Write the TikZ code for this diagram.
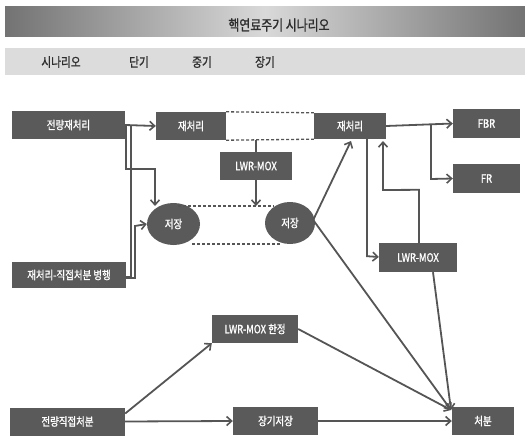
\documentclass[tikz,border=0pt]{standalone}
\usepackage{fontspec}
\newfontfamily\kr[FakeStretch=0.82,FakeBold=1.2]{Noto Sans CJK KR}
\usetikzlibrary{arrows.meta,shapes.geometric}
\definecolor{boxgray}{HTML}{5A5A5A}
\definecolor{linegray}{HTML}{555555}
\definecolor{bandgray}{HTML}{DCDCDC}
\definecolor{txtdark}{HTML}{2E2E2E}
\tikzset{
  box/.style={fill=boxgray, draw=none, text=white, inner sep=0pt,
    font=\kr\fontsize{11.5}{12}\selectfont},
  oval/.style={ellipse, fill=boxgray, draw=none, text=white, inner sep=0pt,
    font=\kr\fontsize{11.5}{12}\selectfont},
  conn/.style={draw=linegray, line width=1.8pt, -{Straight Barb[length=5pt,width=9pt,line width=1.6pt]}},
  plain/.style={draw=linegray, line width=1.8pt},
  dashline/.style={draw=linegray, line width=1.3pt, dash pattern=on 3pt off 2pt},
  bandtxt/.style={text=txtdark, font=\kr\fontsize{13}{14}\selectfont, inner sep=0pt}
}
\begin{document}
\begin{tikzpicture}[x=1pt,y=-1pt]
\useasboundingbox (0,0) rectangle (525,436);
% banners
\shade[left color=gray!90!black, right color=gray!90!black, middle color=gray!30] (5,7) rectangle (525,37);
\node[text=txtdark, font=\kr\fontsize{14.5}{15}\selectfont, inner sep=0pt] (title) at (279,25) {핵연료주기 시나리오};
\fill[bandgray] (5,48) rectangle (525,75);
\node[bandtxt] (h1) at (61,62) {시나리오};
\node[bandtxt] (h2) at (139,62) {단기};
\node[bandtxt] (h3) at (202,62) {중기};
\node[bandtxt] (h4) at (265,62) {장기};
% nodes
\node[box, minimum width=113pt, minimum height=28pt] (all) at (68.5,125) {전량재처리};
\node[box, minimum width=70pt, minimum height=28pt] (r1) at (191,126) {재처리};
\node[box, minimum width=72pt, minimum height=26pt] (r2) at (350,126) {재처리};
\node[box, minimum width=67pt, minimum height=29pt] (fbr) at (486.5,123.5) {FBR};
\node[box, minimum width=67pt, minimum height=29pt] (fr) at (486.5,178.5) {FR};
\node[box, minimum width=72pt, minimum height=28pt] (m1) at (256,166) {LWR-MOX};
\node[oval, minimum width=53pt, minimum height=42pt] (sL) at (173.5,224) {저장};
\node[oval, minimum width=50pt, minimum height=42pt] (sR) at (290,223) {저장};
\node[box, minimum width=78pt, minimum height=29pt] (m2) at (418,257.5) {LWR-MOX};
\node[box, minimum width=114pt, minimum height=26pt] (par) at (69,275) {재처리-직접처분 병행};
\node[box, minimum width=86pt, minimum height=28pt] (m3) at (255,329) {LWR-MOX 한정};
\node[box, minimum width=115pt, minimum height=28pt] (dd) at (67.5,421.5) {전량직접처분};
\node[box, minimum width=85pt, minimum height=28pt] (ls) at (275.5,421) {장기저장};
\node[box, minimum width=62pt, minimum height=28pt] (disp) at (483,421) {처분};
% dashed links
\draw[dashline] (r1.north east) -- (r2.north west);
\draw[dashline] (r1.south east) -- (r2.south west);
\coordinate (dt1) at (178,206);
\coordinate (dt2) at (274,206);
\coordinate (db1) at (192,244);
\coordinate (db2) at (280,244);
\draw[dashline] (dt1) -- (dt2);
\draw[dashline] (db1) -- (db2);
% connectors
\draw[conn] (all.east) -- (r1.west);
\draw[conn] (all.east) ++(1,0) -- ++(0,44) -- (155,169) -- (155,206);
\draw[plain] (par.east) ++(0,2) -- (131,277) -- (131,125);
\draw[conn] (par.east) ++(0,3) -- (135,278) -- (135,226) -- (sL.west);
\draw[plain] (r1.south -| m1.north) -- (m1.north);
\draw[conn] (m1.south) -- (dt1 -| m1.south);
\draw[conn] (sR.east) ++(-2,-3) -- (351,141);
\draw[conn] (r2.south) ++(17,0) -- ++(0,117) -- (m2.west |- 0,257);
\draw[conn] (m2.north) ++(1,0) -- ++(0,-53) -- (383,190) -- (383,141);
\draw[conn] (r2.east) -- (fbr.west);
\draw[conn] (431,125) -- (431,179) -- (fr.west);
\coordinate (dc) at (451,410);
\draw[conn] (sR.east) ++(-2,-3) -- (dc);
\draw[conn] (m2.south) ++(15,0) -- (dc);
\draw[conn] (m3.east) -- (dc);
\draw[conn] (dd.east) ++(0,-8) -- (m3.south west);
\draw[conn] (dd.east) -- (ls.west);
\draw[conn] (ls.east) -- (disp.west);
\end{tikzpicture}
\end{document}
